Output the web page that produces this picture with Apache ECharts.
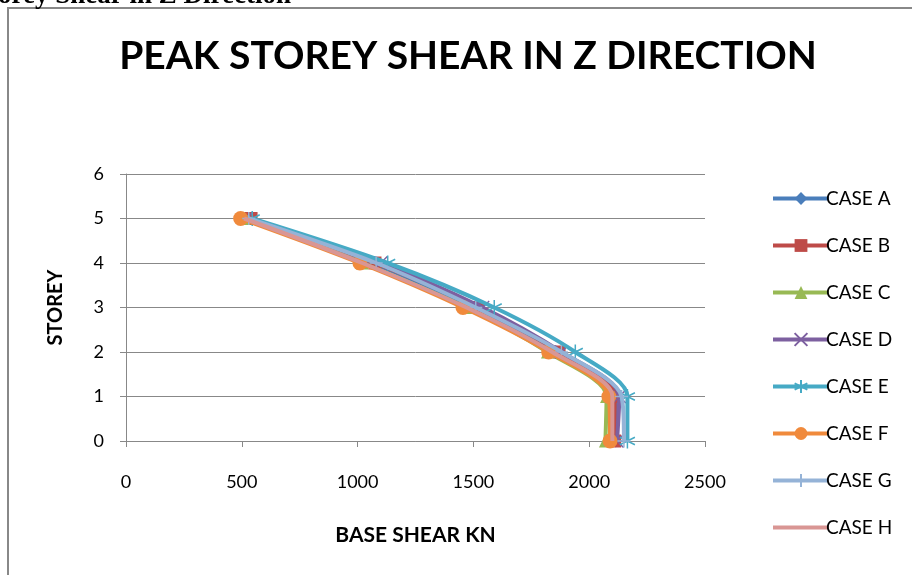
<!DOCTYPE html>
<html>
<head>
<meta charset="utf-8">
<script src="https://cdn.jsdelivr.net/npm/echarts@6/dist/echarts.min.js"></script>
<style>html,body{margin:0;padding:0;background:#fff;}#c{width:912px;height:575px;}</style>
</head>
<body>
<div id="c"></div>
<script>
var storeys = [0, 1, 2, 3, 4, 5];
var caseNames = ['CASE A','CASE B','CASE C','CASE D','CASE E','CASE F','CASE G','CASE H'];
var caseA = [2115, 2120, 1860, 1500, 1060, 530];
var caseB = [2110, 2110, 1870, 1520, 1075, 540];
var caseC = [2070, 2075, 1820, 1470, 1020, 510];
var caseD = [2120, 2130, 1880, 1540, 1100, 520];
var caseE = [2165, 2165, 1940, 1590, 1130, 545];
var caseF = [2090, 2085, 1825, 1455, 1010, 495];
var caseG = [2150, 2140, 1880, 1510, 1080, 530];
var caseH = [2100, 2100, 1840, 1470, 1020, 510];
var xTicks = [0, 500, 1000, 1500, 2000, 2500];
var yTicks = [0, 1, 2, 3, 4, 5, 6];

var allCases = [caseA, caseB, caseC, caseD, caseE, caseF, caseG, caseH];
var colors = ['#4A7EBB','#BE4B48','#98B954','#7D60A0','#46AAC5','#F08A3C','#95B3D7','#D99694'];
var symbols = ['diamond','rect','triangle',
  'path://M0,0L10,10M10,0L0,10',
  'path://M5,0L5,10M0,2.5L10,7.5M0,7.5L10,2.5',
  'circle',
  'path://M5,0L5,10M0,5L10,5',
  'none'];
var symSizes = [13, 13, 13, 13, 15, 15, 13, 0];
var strokeSym = [false,false,false,true,true,false,true,false];

var FONT = 'Lato';
var chart = echarts.init(document.getElementById('c'), null, {renderer:'canvas'});
var series = allCases.map(function(vals, i){
  return {
    name: caseNames[i],
    type: 'line',
    smooth: 0.3,
    data: vals.map(function(v, k){ return [v, storeys[k]]; }),
    symbol: symbols[i],
    symbolSize: symSizes[i],
    showSymbol: symbols[i] !== 'none',
    lineStyle: {color: colors[i], width: 4},
    itemStyle: strokeSym[i] ? {color: colors[i], borderColor: colors[i], borderWidth: 1.5} : {color: colors[i]},
    z: 2 + i
  };
});

var legendData = caseNames.map(function(n, i){
  if (symbols[i] === 'none') {
    return {name: n, icon: 'path://M0,0M56,16M0,6L56,6L56,10L0,10Z'};
  }
  return {name: n};
});

chart.setOption({
  animation: false,
  backgroundColor: '#fff',
  title: {
    text: 'PEAK STOREY SHEAR IN Z DIRECTION',
    left: 463, top: 32, textAlign: 'center',
    textStyle: {fontFamily: FONT, fontWeight: 'bold', fontSize: 39, color: '#000'}
  },
  graphic: [
    {type:'rect', shape:{x:8, y:8, width:920, height:580}, style:{fill:'none', stroke:'#888', lineWidth:2}, silent:true},
    {type:'text', style:{x: 291, y: 10, text:'Storey Shear in Z Direction', font:'bold 27px "Liberation Serif"', fill:'#000', align:'right', verticalAlign:'bottom'}}
  ],
  legend: {
    orient: 'vertical',
    left: 766, top: 184,
    itemWidth: 56, itemHeight: 16, itemGap: 28,
    lineStyle: {width: 4},
    textStyle: {fontFamily: FONT, fontSize: 19, color: '#000', padding: [0,0,0,-8]},
    data: legendData
  },
  grid: {left: 126, right: 207, top: 174, bottom: 134, containLabel: false},
  xAxis: {
    type: 'value', min: xTicks[0], max: xTicks[xTicks.length-1], interval: 500,
    name: 'BASE SHEAR KN', nameLocation: 'middle', nameGap: 84,
    nameTextStyle: {fontFamily: FONT, fontWeight: 'bold', fontSize: 21, color: '#000'},
    axisLine: {show: true, lineStyle: {color: '#888', width: 1}},
    axisTick: {show: true, inside: false, length: 6, lineStyle: {color: '#888'}},
    axisLabel: {fontFamily: FONT, fontSize: 18, color: '#000', margin: 32, formatter: function(v){ return String(v); }},
    splitLine: {show: false}
  },
  yAxis: {
    type: 'value', min: yTicks[0], max: yTicks[yTicks.length-1], interval: 1,
    name: 'STOREY', nameLocation: 'middle', nameGap: 60, nameRotate: 90,
    nameTextStyle: {fontFamily: FONT, fontWeight: 'bold', fontSize: 20, color: '#000'},
    axisLine: {show: true, lineStyle: {color: '#888', width: 1}},
    axisTick: {show: true, inside: false, length: 6, lineStyle: {color: '#888'}},
    axisLabel: {fontFamily: FONT, fontSize: 18, color: '#000', margin: 22},
    splitLine: {show: true, lineStyle: {color: '#888', width: 1}}
  },
  series: series
});
</script>
</body>
</html>
